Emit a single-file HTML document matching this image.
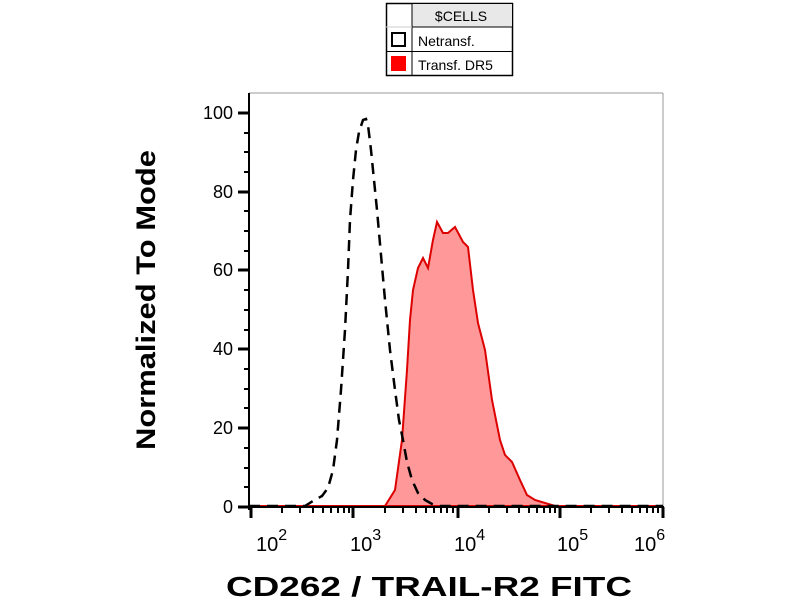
<!DOCTYPE html>
<html><head><meta charset="utf-8"><style>body{margin:0;background:#fff}</style></head><body>
<svg width="800" height="600" xmlns="http://www.w3.org/2000/svg" font-family="Liberation Sans, sans-serif">
<rect width="800" height="600" fill="#fff"/>
<rect x="386.5" y="3.5" width="126" height="72" fill="#fff" stroke="#000" stroke-width="1.5"/>
<rect x="412" y="4" width="100" height="23" fill="#e8e8e8"/>
<line x1="412" y1="3" x2="412" y2="75" stroke="#000" stroke-width="1"/>
<line x1="412" y1="27" x2="512" y2="27" stroke="#000"/>
<line x1="386" y1="27" x2="412" y2="27" stroke="#ccc"/>
<line x1="386" y1="51.5" x2="512" y2="51.5" stroke="#000"/>
<text x="461" y="21" font-size="14" text-anchor="middle">$CELLS</text>
<rect x="392" y="33" width="13" height="13" fill="#fff" stroke="#000" stroke-width="2"/>
<text x="418" y="46" font-size="14">Netransf.</text>
<rect x="391" y="56" width="15" height="15" fill="#f00"/>
<text x="418" y="70" font-size="14">Transf. DR5</text>
<line x1="249" y1="93" x2="663" y2="93" stroke="#999" stroke-width="1"/>
<line x1="663" y1="93" x2="663" y2="507" stroke="#999" stroke-width="1"/>
<path d="M249,506 L385,506 L395,490 L402,440 L407,370 L410,320 L413,290 L418,268 L423,258 L428,268 L433,240 L437,222 L443,233 L448,233 L455,227 L463,242 L468,247 L473,290 L478,323 L485,350 L492,400 L500,440 L505,455 L512,462 L520,480 L527,495 L535,500 L545,503 L555,506 L663,506 Z" fill="#f99" stroke="#d00" stroke-width="2"/>
<path d="M249,506 L305,506 L313,501 L322,496 L328,488 L333,470 L337,440 L341,390 L345,330 L348,270 L350,220 L353,180 L356,150 L359,132 L363,120 L366,119 L368,125 L371,150 L374,180 L377,210 L381,255 L385,300 L390,350 L395,390 L399,420 L403,440 L407,462 L412,480 L418,493 L425,500 L432,504 L440,506 L663,506" fill="none" stroke="#000" stroke-width="2.5" stroke-dasharray="11,7"/>
<line x1="249" y1="93" x2="249" y2="510" stroke="#000" stroke-width="2"/>
<line x1="247" y1="507" x2="664" y2="507" stroke="#000" stroke-width="2"/>
<g stroke="#000" stroke-width="3">
<line x1="238" y1="507" x2="249" y2="507"/><line x1="238" y1="428" x2="249" y2="428"/><line x1="238" y1="349" x2="249" y2="349"/><line x1="238" y1="270" x2="249" y2="270"/><line x1="238" y1="192" x2="249" y2="192"/><line x1="238" y1="113" x2="249" y2="113"/>
</g>
<g stroke="#000" stroke-width="2">
<line x1="244" y1="487" x2="249" y2="487"/><line x1="244" y1="468" x2="249" y2="468"/><line x1="244" y1="448" x2="249" y2="448"/>
<line x1="244" y1="408" x2="249" y2="408"/><line x1="244" y1="389" x2="249" y2="389"/><line x1="244" y1="369" x2="249" y2="369"/>
<line x1="244" y1="330" x2="249" y2="330"/><line x1="244" y1="310" x2="249" y2="310"/><line x1="244" y1="290" x2="249" y2="290"/>
<line x1="244" y1="251" x2="249" y2="251"/><line x1="244" y1="231" x2="249" y2="231"/><line x1="244" y1="211" x2="249" y2="211"/>
<line x1="244" y1="172" x2="249" y2="172"/><line x1="244" y1="152" x2="249" y2="152"/><line x1="244" y1="133" x2="249" y2="133"/>
</g>
<g font-size="18" text-anchor="end">
<text x="233" y="513">0</text><text x="233" y="434">20</text><text x="233" y="355">40</text><text x="233" y="276">60</text><text x="233" y="198">80</text><text x="233" y="119">100</text>
</g>
<g stroke="#000" stroke-width="3">
<line x1="251" y1="507" x2="251" y2="518"/><line x1="353" y1="507" x2="353" y2="518"/><line x1="458" y1="507" x2="458" y2="518"/><line x1="560" y1="507" x2="560" y2="518"/><line x1="663" y1="507" x2="663" y2="518"/>
</g>
<g stroke="#000" stroke-width="2">
<line x1="282" y1="507" x2="282" y2="513"/><line x1="300" y1="507" x2="300" y2="513"/><line x1="313" y1="507" x2="313" y2="513"/><line x1="323" y1="507" x2="323" y2="513"/><line x1="331" y1="507" x2="331" y2="513"/><line x1="338" y1="507" x2="338" y2="513"/><line x1="344" y1="507" x2="344" y2="513"/><line x1="349" y1="507" x2="349" y2="513"/>
<line x1="385" y1="507" x2="385" y2="513"/><line x1="403" y1="507" x2="403" y2="513"/><line x1="416" y1="507" x2="416" y2="513"/><line x1="426" y1="507" x2="426" y2="513"/><line x1="434" y1="507" x2="434" y2="513"/><line x1="441" y1="507" x2="441" y2="513"/><line x1="447" y1="507" x2="447" y2="513"/><line x1="453" y1="507" x2="453" y2="513"/>
<line x1="489" y1="507" x2="489" y2="513"/><line x1="507" y1="507" x2="507" y2="513"/><line x1="519" y1="507" x2="519" y2="513"/><line x1="529" y1="507" x2="529" y2="513"/><line x1="537" y1="507" x2="537" y2="513"/><line x1="544" y1="507" x2="544" y2="513"/><line x1="550" y1="507" x2="550" y2="513"/><line x1="555" y1="507" x2="555" y2="513"/>
<line x1="591" y1="507" x2="591" y2="513"/><line x1="609" y1="507" x2="609" y2="513"/><line x1="622" y1="507" x2="622" y2="513"/><line x1="632" y1="507" x2="632" y2="513"/><line x1="640" y1="507" x2="640" y2="513"/><line x1="647" y1="507" x2="647" y2="513"/><line x1="653" y1="507" x2="653" y2="513"/><line x1="658" y1="507" x2="658" y2="513"/>
</g>
<g font-size="20">
<text x="256" y="551">10<tspan font-size="16" dy="-11">2</tspan></text>
<text x="350" y="551">10<tspan font-size="16" dy="-11">3</tspan></text>
<text x="454" y="551">10<tspan font-size="16" dy="-11">4</tspan></text>
<text x="557" y="551">10<tspan font-size="16" dy="-11">5</tspan></text>
<text x="634" y="551">10<tspan font-size="16" dy="-11">6</tspan></text>
</g>
<text x="226" y="596" font-size="28" font-weight="bold" textLength="406" lengthAdjust="spacingAndGlyphs">CD262 / TRAIL-R2 FITC</text>
<text transform="translate(155,450) rotate(-90)" font-size="27" font-weight="bold" textLength="300" lengthAdjust="spacingAndGlyphs">Normalized To Mode</text>
</svg>
</body></html>
